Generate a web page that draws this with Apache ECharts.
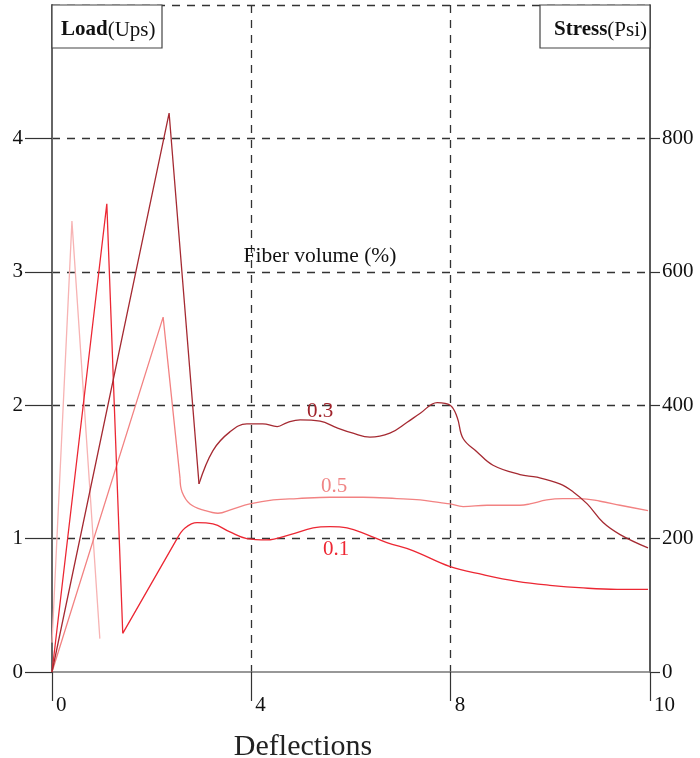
<!DOCTYPE html>
<html>
<head>
<meta charset="utf-8">
<script src="https://cdn.jsdelivr.net/npm/echarts@6/dist/echarts.min.js"></script>
<style>
  html, body { margin: 0; padding: 0; background: #fff; }
  #chart-container { width: 700px; height: 758px; }
</style>
</head>
<body>
<div id="chart-container"></div>
<script>
// x is read on an evenly spaced axis whose ticks are labelled 0, 4, 8, 10
var xTickLabels = ["0", "4", "8", "10"];
var loadTicks = [0, 1, 2, 3, 4];

// light pink spike near the origin
var spikePale = [[0, 0.22], [0.4, 3.38], [0.96, 0.25]];

// fiber volume 0.3
var spike03 = [[0, 0], [2.35, 4.19], [2.95, 1.41]];
var tail03 = [
  [2.95, 1.41], [3.23, 1.66], [3.57, 1.8], [3.91, 1.86], [4.23, 1.86],
  [4.52, 1.84], [4.72, 1.87], [4.98, 1.89], [5.38, 1.88], [5.72, 1.83],
  [6.04, 1.79], [6.38, 1.76], [6.78, 1.79], [7.12, 1.87], [7.39, 1.94],
  [7.73, 2.02], [7.99, 2.0], [8.13, 1.91], [8.25, 1.75], [8.53, 1.65],
  [8.85, 1.55], [9.39, 1.48], [9.73, 1.46], [10.19, 1.41],
  [10.46, 1.35], [10.74, 1.26], [11.06, 1.12], [11.4, 1.03], [11.96, 0.93]
];

// fiber volume 0.5
var spike05 = [[0, 0], [2.23, 2.66], [2.57, 1.45]];
var tail05 = [
  [2.57, 1.45], [2.61, 1.35], [2.77, 1.26], [3.07, 1.21], [3.33, 1.19],
  [3.61, 1.22], [3.97, 1.26], [4.44, 1.29], [4.92, 1.3], [5.58, 1.31],
  [6.24, 1.31], [6.92, 1.3], [7.39, 1.29], [7.79, 1.27], [7.99, 1.26],
  [8.25, 1.24], [8.73, 1.25], [9.39, 1.25], [9.59, 1.26], [9.93, 1.29],
  [10.25, 1.3], [10.6, 1.3], [11.0, 1.28], [11.4, 1.25], [11.96, 1.21]
];

// fiber volume 0.1
var spike01 = [[0, 0], [1.1, 3.51], [1.42, 0.29], [2.51, 1.0]];
var tail01 = [
  [2.51, 1.0], [2.67, 1.08], [2.91, 1.12], [3.23, 1.11], [3.57, 1.05],
  [3.91, 1.0], [4.31, 0.99], [4.78, 1.03], [5.24, 1.08], [5.58, 1.09],
  [5.92, 1.08], [6.32, 1.03], [6.72, 0.97], [7.24, 0.91], [7.99, 0.79],
  [8.65, 0.73], [9.33, 0.68], [9.99, 0.65], [10.66, 0.63], [11.34, 0.62],
  [11.96, 0.62]
];

// where each fiber volume label sits
var labelAt = { "0.3": [5.38, 1.95], "0.5": [5.66, 1.39], "0.1": [5.7, 0.92] };

var serif = "Liberation Serif";
var dash = { color: "#333", width: 1.3, type: [8, 7] };

function line(name, data, color, smooth, label, labelColor) {
  var s = {
    name: name,
    type: "line",
    data: data,
    smooth: smooth,
    symbol: "none",
    lineStyle: { color: color, width: 1.3 },
    z: 3
  };
  if (label) {
    s.markPoint = {
      symbol: "circle",
      symbolSize: 1,
      itemStyle: { color: "rgba(0,0,0,0)" },
      label: {
        show: true,
        position: "inside",
        formatter: name,
        color: labelColor,
        fontFamily: serif,
        fontSize: 21
      },
      data: [{ coord: labelAt[name] }]
    };
  }
  return s;
}

var dom = document.getElementById("chart-container");
var myChart = echarts.init(dom, null, { renderer: "canvas" });

var option = {
  animation: false,
  textStyle: { fontFamily: serif },
  grid: { left: 52, right: 50, top: 5, bottom: 86, outerBoundsMode: "none", containLabel: false },
  xAxis: {
    type: "value",
    min: 0,
    max: 12,
    interval: 4,
    name: "Deflections",
    nameLocation: "middle",
    nameGap: 60,
    nameTextStyle: { fontFamily: serif, fontSize: 30, color: "#222", padding: [0, 96, 0, 0] },
    axisLine: { lineStyle: { color: "#777", width: 1.5 } },
    axisTick: { length: 29, lineStyle: { color: "#333", width: 1.2 } },
    axisLabel: {
      formatter: function (v) { return xTickLabels[v / 4]; },
      align: "left",
      padding: [0, 0, 0, 4],
      margin: 23,
      color: "#111",
      fontFamily: serif,
      fontSize: 21
    },
    splitLine: { show: true, showMinLine: false, showMaxLine: false, lineStyle: dash }
  },
  yAxis: [
    {
      type: "value",
      min: 0,
      max: 5,
      interval: 1,
      position: "left",
      axisLine: { show: true, lineStyle: { color: "#666", width: 2 } },
      axisTick: { show: true, length: 27, customValues: loadTicks, lineStyle: { color: "#333", width: 1.2 } },
      axisLabel: { customValues: loadTicks, margin: 29, color: "#111", fontFamily: serif, fontSize: 21 },
      splitLine: { show: false }
    },
    {
      type: "value",
      min: 0,
      max: 1000,
      interval: 200,
      position: "right",
      axisLine: { show: true, lineStyle: { color: "#222", width: 1.5 } },
      axisTick: { show: true, length: 10, lineStyle: { color: "#333", width: 1.2 } },
      axisLabel: { margin: 12, showMaxLabel: false, color: "#111", fontFamily: serif, fontSize: 21 },
      splitLine: { show: true, showMinLine: false, lineStyle: dash }
    }
  ],
  graphic: [
    {
      type: "rect",
      z: 10,
      shape: { x: 52, y: 5, width: 110, height: 43 },
      style: { fill: "#fff", stroke: "#444", lineWidth: 1.2 }
    },
    {
      type: "text",
      z: 11,
      x: 61,
      y: 30,
      style: {
        text: "{b|Load}{r|(Ups)}",
        verticalAlign: "middle",
        rich: {
          b: { fontFamily: serif, fontSize: 21, fontWeight: "bold", fill: "#111" },
          r: { fontFamily: serif, fontSize: 21, fill: "#111" }
        }
      }
    },
    {
      type: "rect",
      z: 10,
      shape: { x: 540, y: 5, width: 110, height: 43 },
      style: { fill: "#fff", stroke: "#444", lineWidth: 1.2 }
    },
    {
      type: "text",
      z: 11,
      x: 647,
      y: 30,
      style: {
        text: "{b|Stress}{r|(Psi)}",
        align: "right",
        verticalAlign: "middle",
        rich: {
          b: { fontFamily: serif, fontSize: 21, fontWeight: "bold", fill: "#111" },
          r: { fontFamily: serif, fontSize: 21, fill: "#111" }
        }
      }
    },
    {
      type: "text",
      z: 11,
      x: 320,
      y: 256,
      style: {
        text: "Fiber volume (%)",
        align: "center",
        verticalAlign: "middle",
        fontFamily: serif,
        fontSize: 21.5,
        fill: "#111"
      }
    }
  ],
  series: [
    line("pale", spikePale, "#f7b3b3", false),
    line("0.5", spike05, "#f28282", false),
    line("0.5", tail05, "#f28282", 0.4, true, "#f08585"),
    line("0.1", spike01, "#ec2733", false),
    line("0.1", tail01, "#ec2733", 0.4, true, "#ee2733"),
    line("0.3", spike03, "#a52a32", false),
    line("0.3", tail03, "#a52a32", 0.4, true, "#a0232b")
  ]
};

if (option && typeof option === "object") {
  myChart.setOption(option);
}

window.addEventListener("resize", myChart.resize);
</script>
</body>
</html>
